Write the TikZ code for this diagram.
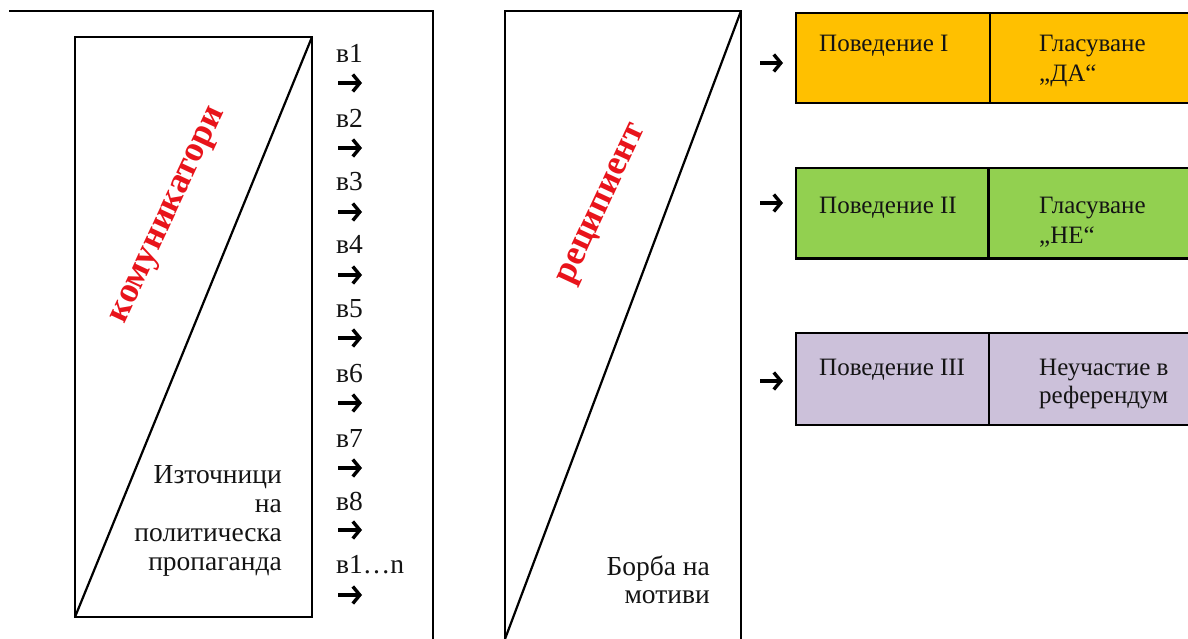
\documentclass[tikz,border=0pt]{standalone}
\usepackage{fontspec}
\setmainfont{Liberation Serif}
\usetikzlibrary{arrows.meta}
\definecolor{orng}{HTML}{FFC000}
\definecolor{grn}{HTML}{92D050}
\definecolor{purp}{HTML}{CCC1DA}
\definecolor{redtxt}{HTML}{E8141B}
\begin{document}
\begin{tikzpicture}[x=1pt,y=-1pt,
  frame/.style={line width=2.5pt, line cap=rect},
  thin frame/.style={line width=2.3pt},
  txt/.style={font=\fontsize{25}{29}\selectfont, inner sep=0pt, text=black!92},
  ptxt/.style={font=\fontsize{27.5}{29}\selectfont, inner sep=0pt, text=black!92},
  redlbl/.style={font=\bfseries\fontsize{36}{40}\selectfont, text=redtxt, rotate=65, inner sep=0pt},
  bigarrow/.style={line width=3.4pt, -{Straight Barb[length=7pt,width=17pt,line width=3.4pt]}},
  cellbox/.style={draw=black, line width=2.3pt}
]
\clip (0,0) rectangle (1188,639);
\useasboundingbox (0,0) rectangle (1188,639);
\fill[white] (0,0) rectangle (1188,639);

% ---- left panel ----
\coordinate (p1a) at (10,11);
\coordinate (p1b) at (433,11);
\coordinate (p1c) at (433,645);
\draw[frame] (p1a) -- (p1b) -- (p1c);
\coordinate (r1nw) at (75,37);
\coordinate (r1se) at (312,617);
\draw[thin frame] (r1nw) rectangle (r1se);
\coordinate (r1ne) at (312,37);
\coordinate (r1sw) at (75,617);
\draw[line width=2.2pt] (r1ne) -- (r1sw);

\node[redlbl] (kom) at (170,216) {комуникатори};

\node[ptxt, anchor=base east] (s1) at (282,483) {Източници};
\node[ptxt, anchor=base east] (s2) at (282,512) {на};
\node[ptxt, anchor=base east] (s3) at (282,541) {политическа};
\node[ptxt, anchor=base east] (s4) at (282,570) {пропаганда};

% labels and arrows
\foreach \lab/\yb/\ya [count=\i] in {в1/63/83, в2/128/148, в3/190/212, в4/253/275, в5/317/338, в6/382/403, в7/447/468, в8/510/530, в1…n/573/595}{
  \node[ptxt, anchor=base west] (v\i) at (336,\yb) {\lab};
  \coordinate (as\i) at (338,\ya);
  \coordinate (ae\i) at (362,\ya);
  \draw[bigarrow] (as\i) -- (ae\i);
}

% ---- middle panel ----
\coordinate (p2a) at (505,645);
\coordinate (p2b) at (505,11);
\coordinate (p2c) at (741,11);
\coordinate (p2d) at (741,645);
\draw[frame] (p2a) -- (p2b) -- (p2c) -- (p2d);
\coordinate (p2e) at (505,639);
\draw[line width=2.2pt] (p2c) -- (p2e);

\node[redlbl] (rec) at (604,205) {реципиент};

\node[ptxt, anchor=base east] (b1) at (710,575) {Борба на};
\node[ptxt, anchor=base east] (b2) at (710,603) {мотиви};

% ---- right boxes ----
\foreach \top/\bot/\dv/\col/\nm in {12.7/102.7/990/orng/A, 168/258.5/988.5/grn/B, 333/425/989/purp/C}{
  \path[cellbox, fill=\col] (796,\top) rectangle (1200,\bot);
  \draw[line width=2.2pt] (\dv,\top) -- (\dv,\bot);
}
\coordinate (q1s) at (760,63);  \coordinate (q1e) at (783,63);
\coordinate (q2s) at (760,203); \coordinate (q2e) at (783,203);
\coordinate (q3s) at (760,381); \coordinate (q3e) at (783,381);
\draw[bigarrow] (q1s) -- (q1e);
\draw[bigarrow] (q2s) -- (q2e);
\draw[bigarrow] (q3s) -- (q3e);

\node[txt, anchor=base west] (o1) at (819,52) {Поведение I};
\node[txt, anchor=base west] (o2) at (1039,52) {Гласуване};
\node[txt, anchor=base west] (o3) at (1039,82) {„ДА“};

\node[txt, anchor=base west] (g1) at (819,214) {Поведение II};
\node[txt, anchor=base west] (g2) at (1039,214) {Гласуване};
\node[txt, anchor=base west] (g3) at (1039,243) {„НЕ“};

\node[txt, anchor=base west] (u1) at (819,375) {Поведение III};
\node[txt, anchor=base west] (u2) at (1039,375) {Неучастие в};
\node[txt, anchor=base west] (u3) at (1039,403) {референдум};
\end{tikzpicture}
\end{document}
